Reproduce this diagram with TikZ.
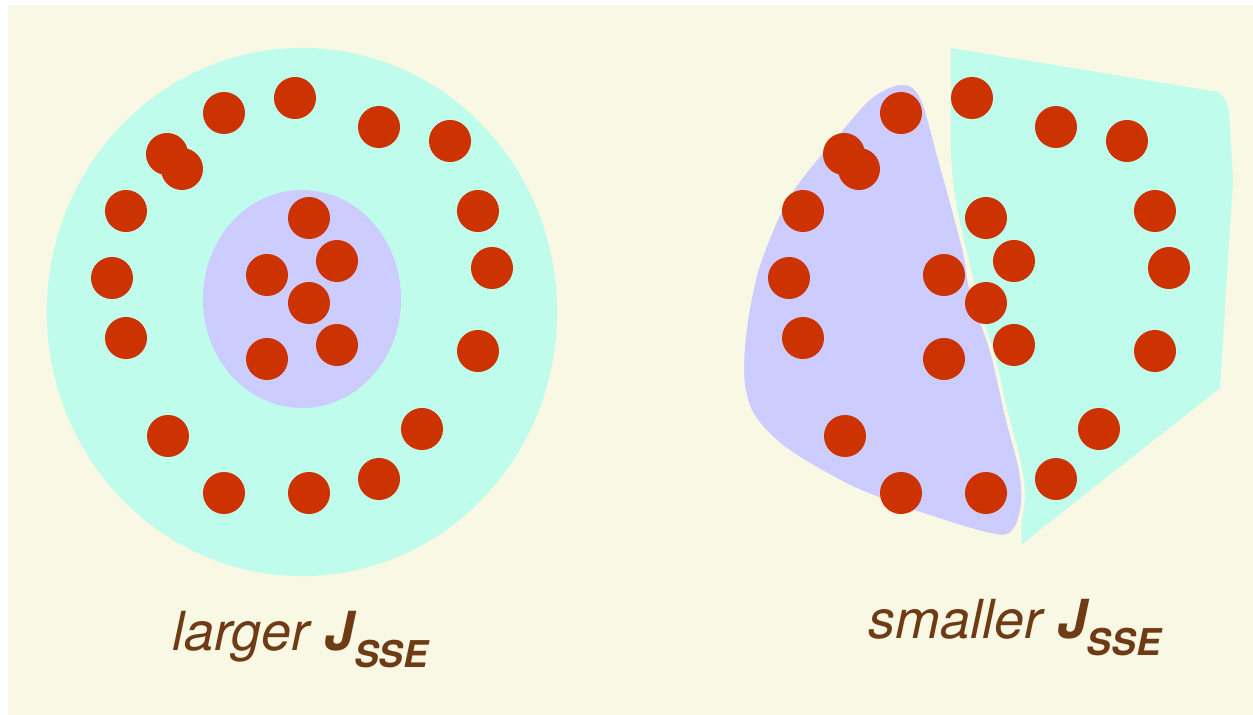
\documentclass[tikz,border=0pt]{standalone}
\usepackage{fontspec}
\setmainfont{TeX Gyre Heros}
\usepackage{tikz}
\usetikzlibrary{positioning}
\definecolor{cream}{HTML}{F8F8E4}
\definecolor{shell}{HTML}{C0FCEC}
\definecolor{core}{HTML}{CCCCFF}
\definecolor{dotred}{HTML}{CC3300}
\definecolor{labelbrown}{HTML}{6E3B14}

\begin{document}
\begin{tikzpicture}[x=0.01cm,y=-0.01cm,
      dot/.style={fill=dotred},
      lbl/.style={anchor=base west,inner sep=0pt,text=labelbrown,
        font=\fontsize{15.3}{18}\selectfont\itshape}]
  \useasboundingbox (0,0) rectangle (1253,715);
  \fill[white] (0,0) rectangle (1253,715);
  \fill[cream] (8,5) rectangle (1253,715);

  % left: ring around a tight core
  \fill[shell] (302,312) ellipse [x radius=2.55cm,y radius=2.64cm];
  \fill[core] (302,299) ellipse [x radius=0.99cm,y radius=1.09cm];

  % right: same points, split in two halves
  \fill[shell] (951,48) -- (1218,92) .. controls (1226,99) .. (1229,112)
    -- (1233,180) -- (1220,388) -- (1022,544) -- (1020,457)
    .. controls (1005,400) and (985,330) .. (970,265)
    .. controls (958,215) and (952,190) .. (951,150) -- cycle;
  \filldraw[fill=core,draw=cream,line width=1pt] plot[smooth cycle,tension=0.55] coordinates {
    (903,83) (873,95) (843,127) (790,193) (760,260) (748,310) (743,350)
    (743,383) (750,410) (767,433) (797,457) (857,490) (930,517) (997,536)
    (1016,528) (1023,500) (1020,467) (1007,417) (992,352) (972,293)
    (966,258) (957,222) (940,160) (922,98)};

  \foreach \dx in {0,677}
    \foreach \x/\y in {295/98,224/113,167/154,182/169,379/127,450/141,
        126/211,112/278,126/338,478/211,492/268,478/351,
        309/218,267/275,337/261,309/303,337/345,267/359,
        168/436,224/493,309/493,379/479,422/429}
      \fill[dot] (\x+\dx,\y) circle [radius=0.21cm];

  \node[lbl] (larger) at (172,650)
    {larger \textbf{J}\raisebox{-5pt}{\fontsize{10.5}{12}\selectfont\bfseries SSE}};
  \node[lbl] (smaller) at (868,638)
    {smaller \textbf{J}\raisebox{-5pt}{\fontsize{10.5}{12}\selectfont\bfseries SSE}};
\end{tikzpicture}
\end{document}
